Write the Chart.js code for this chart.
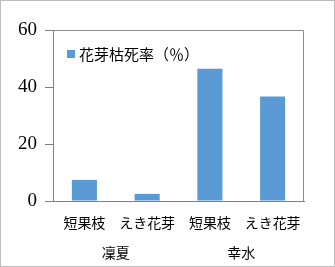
<!DOCTYPE html>
<html><head><meta charset="utf-8">
<script src="https://cdn.jsdelivr.net/npm/chart.js@4/dist/chart.umd.min.js"></script>
<style>
html,body{margin:0;padding:0;background:#fff;}
#wrap{position:absolute;left:0;top:0;width:333px;height:265px;border:1px solid #bdbdbd;}
canvas{display:block;}
</style></head>
<body>
<div id="wrap"><canvas id="c" width="333" height="265"></canvas></div>
<script>
const categories = ["短果枝", "えき花芽", "短果枝", "えき花芽"];
const groups = ["凜夏", "幸水"];
const seriesName = "花芽枯死率（％）";
const values = [7.4, 2.5, 46.4, 36.7];
const yTicks = [0, 20, 40, 60];

const boxPlugin = {
  id: 'box',
  afterDraw(chart) {
    const a = chart.chartArea, ctx = chart.ctx;
    ctx.save();
    ctx.strokeStyle = '#8c8c8c';
    ctx.lineWidth = 1;
    ctx.beginPath();
    ctx.moveTo(Math.round(a.left), Math.round(a.top) + 0.5);
    ctx.lineTo(Math.round(a.right) - 0.5, Math.round(a.top) + 0.5);
    ctx.lineTo(Math.round(a.right) - 0.5, a.bottom);
    ctx.stroke();
    // legend inside plot area
    const ds = chart.data.datasets[0];
    ctx.fillStyle = ds.backgroundColor;
    ctx.fillRect(Math.round(a.left) + 14, Math.round(a.top) + 20, 8, 8);
    ctx.fillStyle = '#000';
    ctx.font = '15px "Noto Sans CJK JP"';
    ctx.textBaseline = 'middle';
    ctx.textAlign = 'left';
    ctx.fillText(ds.label, Math.round(a.left) + 26, Math.round(a.top) + 24);
    ctx.restore();
  }
};

new Chart(document.getElementById('c'), {
  type: 'bar',
  data: {
    labels: categories,
    datasets: [{
      label: seriesName,
      data: values,
      backgroundColor: '#5b9bd5',
      borderWidth: 0,
      categoryPercentage: 0.4,
      barPercentage: 1.0
    }]
  },
  options: {
    responsive: false,
    animation: false,
    layout: { padding: { left: 0, right: 30, top: 29, bottom: 5 } },
    plugins: {
      tooltip: { enabled: false },
      legend: { display: false }
    },
    scales: {
      x: {
        grid: { display: false, drawTicks: false },
        border: { display: true, color: '#808080', width: 1 },
        ticks: { color: '#000', padding: 15, font: { family: '"Noto Sans CJK JP"', size: 14, lineHeight: 1 }, maxRotation: 0 }
      },
      x2: {
        type: 'category',
        labels: groups,
        position: 'bottom',
        offset: true,
        grid: { display: false, drawTicks: false },
        border: { display: false },
        ticks: { color: '#000', padding: 1, font: { family: '"Noto Sans CJK JP"', size: 14, lineHeight: 1 } }
      },
      y: {
        min: 0, max: 60,
        afterBuildTicks: (s) => { s.ticks = yTicks.map(v => ({ value: v })); },
        afterFit: (s) => { s.width = 52; },
        grid: { display: true, drawOnChartArea: false, drawTicks: true, tickLength: 8, color: '#808080' },
        border: { display: true, color: '#808080', width: 1 },
        ticks: { color: '#000', padding: 8, font: { family: '"Liberation Serif"', size: 19 } }
      }
    }
  },
  plugins: [boxPlugin]
});
</script>
</body></html>
